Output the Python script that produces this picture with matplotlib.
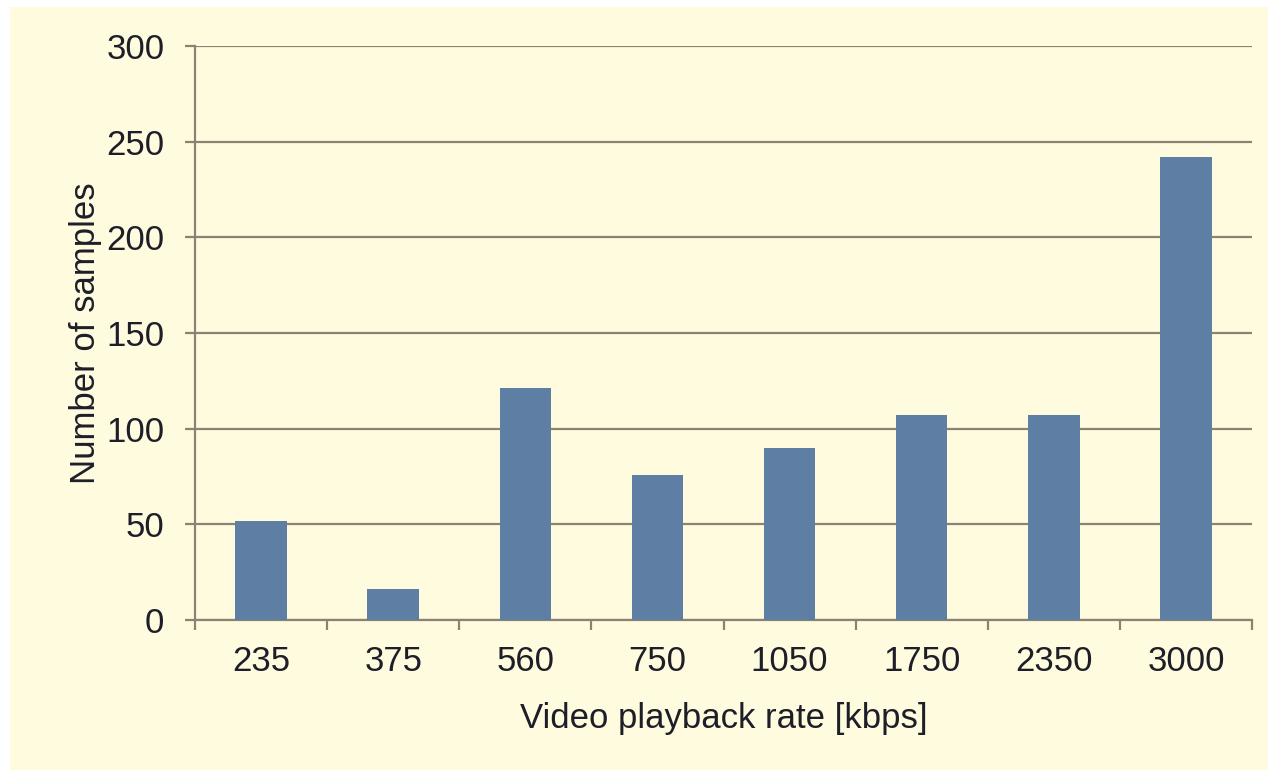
import matplotlib
matplotlib.use("Agg")
import matplotlib.pyplot as plt
from matplotlib.patches import Rectangle
import numpy as np

# Playback rate categories and sample counts
rates = ["235", "375", "560", "750", "1050", "1750", "2350", "3000"]
samples = [52, 16, 121, 76, 90, 107, 107, 242]
y_ticks = [0, 50, 100, 150, 200, 250, 300]

plt.rcParams['font.family'] = ['Liberation Sans', 'DejaVu Sans']

W, H, DPI = 1268, 770, 100
fig = plt.figure(figsize=(W / DPI, H / DPI), dpi=DPI, facecolor="white")

# pale yellow chart area
fig.add_artist(Rectangle((10 / W, 0), 1 - 10 / W, 1 - 7 / H,
                         transform=fig.transFigure, facecolor="#FFFBDF",
                         edgecolor="none", zorder=-10))

ax = fig.add_axes([195 / W, 1 - 620 / H, (1252 - 195) / W, (620 - 46) / H])
ax.set_facecolor("none")
ax.set_zorder(5)

line_col = "#8C8272"
text_col = "#1E1E28"
fs = 25

x = np.arange(len(rates))
ax.bar(x, samples, width=0.39, color="#5E7FA3", zorder=3)

ax.set_xlim(-0.5, len(rates) - 0.5)
ax.set_ylim(0, 300)
ax.set_yticks(y_ticks)
ax.set_yticklabels([str(v) for v in y_ticks])
ax.set_xticks(x)
ax.set_xticklabels(rates)
ax.set_xticks(np.arange(len(rates) + 1) - 0.5, minor=True)

ax.grid(axis="y", color=line_col, linewidth=1.6, zorder=1)
ax.set_axisbelow(True)

for side in ["top", "right"]:
    ax.spines[side].set_visible(False)
for side in ["left", "bottom"]:
    ax.spines[side].set_color(line_col)
    ax.spines[side].set_linewidth(1.6)

ax.tick_params(axis="x", which="major", length=0, pad=18, labelsize=fs,
               labelcolor=text_col)
ax.tick_params(axis="x", which="minor", length=7, width=1.6, color=line_col)
ax.tick_params(axis="y", length=7, width=1.6, color=line_col, pad=15,
               labelsize=fs, labelcolor=text_col)

ax.set_xlabel("Video playback rate [kbps]", fontsize=fs, color=text_col,
              labelpad=17)
ax.set_ylabel("Number of samples", fontsize=fs, color=text_col, labelpad=3)

fig.savefig("out.png", dpi=DPI, facecolor=fig.get_facecolor())
